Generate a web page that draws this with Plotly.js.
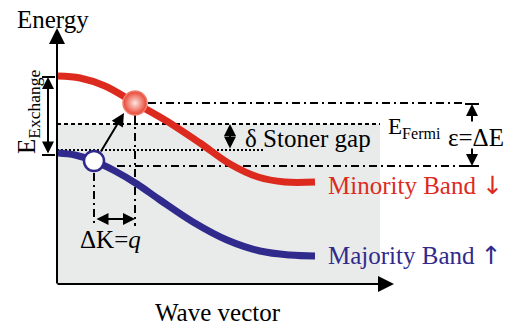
<!DOCTYPE html>
<html>
<head>
<meta charset="utf-8">
<script src="https://cdn.plot.ly/plotly-3.0.1.min.js"></script>
<style>
  html, body { margin: 0; padding: 0; background: #fff; }
  #chart { width: 505px; height: 327px; }
</style>
</head>
<body>
<div id="chart"></div>
<script>
// Band dispersion, sketched in drawing units (x = wave vector, y = energy, downwards)
const minorityK = [58, 80, 105, 135, 165, 200, 230, 258, 285, 315];
const minorityE = [76, 78, 86, 103, 120, 143, 164, 177, 182, 182];
const majorityK = [58, 75, 94, 115, 137, 160, 193, 227, 260, 290, 315];
const majorityE = [153, 155, 161, 171, 184, 200, 222, 240, 251, 255, 256];

// Spin-flip transition: empty majority state -> occupied minority state
const holeK = [94];
const holeE = [161];
const electronK = [135];
const electronE = [103];

// Reference energy levels
const fermiLevel = 124;
const stonerEdge = 150;
const exchangeTop = 77;
const exchangeBottom = 155;
const epsTop = 104;
const epsBottom = 166;

const RED = '#dc2b1e';
const BLUE = '#302a8c';
const SERIF = "'Liberation Serif', 'Times New Roman', 'DejaVu Serif', serif";
const DASHDOT = '8px,4px,2px,4px';
const ARROW_SPAN = '<span style="font-family:\'DejaVu Sans\'">';

const traces = [
  { x: minorityK, y: minorityE, mode: 'lines', line: { color: RED, width: 7, shape: 'spline', smoothing: 1 }, hoverinfo: 'skip' },
  { x: majorityK, y: majorityE, mode: 'lines', line: { color: BLUE, width: 7, shape: 'spline', smoothing: 1 }, hoverinfo: 'skip' },
  { x: holeK, y: holeE, mode: 'markers', marker: { size: 20, color: '#ffffff', line: { color: BLUE, width: 2.5 } }, hoverinfo: 'skip' },
  { x: electronK, y: electronE, mode: 'markers',
    marker: { size: 24, color: '#e8402f', gradient: { type: 'radial', color: '#fde6de' }, line: { color: '#f08070', width: 1.5 } },
    hoverinfo: 'skip' }
];

function hline(y, x0, x1, dash, width) {
  return { type: 'line', layer: 'below', xref: 'x', yref: 'y', x0: x0, x1: x1, y0: y, y1: y,
           line: { color: '#000', width: width || 2, dash: dash || 'solid' } };
}
function vline(x, y0, y1, dash, width) {
  return { type: 'line', layer: 'below', xref: 'x', yref: 'y', x0: x, x1: x, y0: y0, y1: y1,
           line: { color: '#000', width: width || 2, dash: dash || 'solid' } };
}

const shapes = [
  { type: 'rect', layer: 'below', xref: 'x', yref: 'y', x0: 57, x1: 380, y0: fermiLevel, y1: 284,
    fillcolor: '#e9ebeb', line: { width: 0 } },
  hline(fermiLevel, 57, 380, '4px,3px', 2),
  hline(stonerEdge, 57, 265, '2px,2px', 2),
  hline(electronE[0], 148, 466, DASHDOT, 2),
  hline(epsBottom, 117, 466, DASHDOT, 2),
  vline(electronK[0], 115, 226, DASHDOT, 2),
  vline(holeK[0], 173, 226, DASHDOT, 2),
  // end caps of the energy markers
  hline(exchangeTop, 42, 55, 'solid', 2),
  hline(exchangeBottom, 42, 55, 'solid', 2),
  hline(epsTop, 465, 479, 'solid', 2),
  hline(epsBottom, 465, 479, 'solid', 2)
];

function arrow(x, y, ax, ay, opts) {
  return Object.assign({
    x: x, y: y, ax: ax, ay: ay, xref: 'x', yref: 'y', axref: 'x', ayref: 'y',
    text: '', showarrow: true, arrowhead: 2, arrowsize: 1.2, arrowwidth: 2, arrowcolor: '#000'
  }, opts || {});
}
function label(x, y, text, size, color, opts) {
  return Object.assign({
    x: x, y: y, xref: 'x', yref: 'y', text: text, showarrow: false,
    xanchor: 'center', yanchor: 'middle',
    font: { family: SERIF, size: size, color: color || '#000' }
  }, opts || {});
}

const annotations = [
  // axes
  arrow(57, 28, 57, 285, { arrowsize: 1.6 }),
  arrow(394, 284, 56, 284, { arrowsize: 1.6 }),
  // transition
  arrow(124, 113, 100, 153, { arrowsize: 1.3 }),
  // energy scales
  arrow(48, exchangeTop, 48, exchangeBottom, { arrowside: 'end+start' }),
  arrow(230, fermiLevel, 230, stonerEdge, { arrowside: 'end+start' }),
  arrow(135, 219, 95, 219, { arrowside: 'end+start' }),
  arrow(472, epsTop, 472, 123),
  arrow(472, epsBottom, 472, 147),
  // text
  label(53, 19, 'Energy', 25),
  label(218, 312, 'Wave vector', 25),
  label(28, 112, 'E<sub>Exchange</sub>', 25, '#000', { textangle: -90 }),
  label(243, 138, 'δ Stoner gap', 25, '#000', { xanchor: 'left' }),
  label(386, 128, 'E<sub>Fermi</sub>', 23, '#000', { xanchor: 'left' }),
  label(446, 137, 'ε=ΔE', 25, '#000', { xanchor: 'left' }),
  label(110, 239, 'ΔK=<i>q</i>', 25),
  label(326, 185, 'Minority Band ' + ARROW_SPAN + '↓</span>', 25, RED, { xanchor: 'left' }),
  label(326, 255, 'Majority Band ' + ARROW_SPAN + '↑</span>', 25, BLUE, { xanchor: 'left' })
];

const layout = {
  width: 505, height: 327,
  margin: { l: 0, r: 0, t: 0, b: 0 },
  paper_bgcolor: '#fff', plot_bgcolor: '#fff',
  showlegend: false,
  xaxis: { range: [0, 505], visible: false, fixedrange: true },
  yaxis: { range: [327, 0], visible: false, fixedrange: true },
  shapes: shapes,
  annotations: annotations
};

Plotly.newPlot('chart', traces, layout, { staticPlot: true, displayModeBar: false });
</script>
</body>
</html>
